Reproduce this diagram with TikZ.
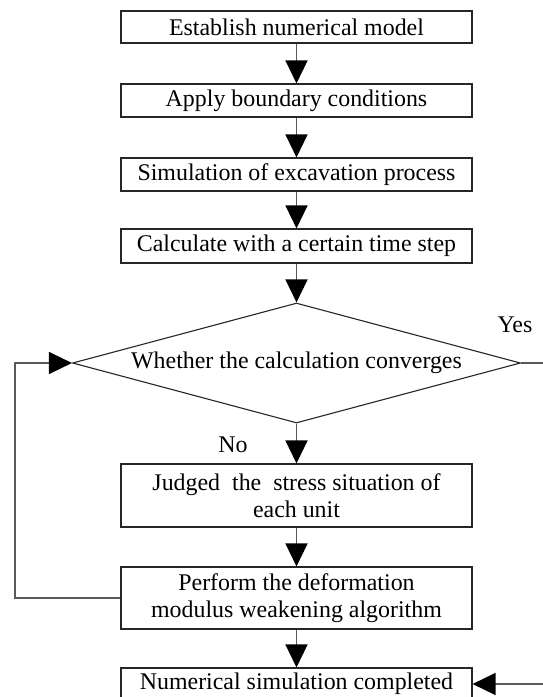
\documentclass[tikz,border=0pt]{standalone}
\usepackage{fontspec}
\setmainfont{Liberation Serif}
\usetikzlibrary{arrows.meta,shapes.geometric}
\begin{document}
\begin{tikzpicture}[x=1pt,y=-1pt,
  box/.style={draw=black!85, line width=1.1pt, minimum width=351pt, inner sep=0pt, align=center, font=\fontsize{23.9}{27}\selectfont},
  decision/.style={diamond, draw=black!85, line width=1.1pt, minimum width=448pt, minimum height=120pt, aspect=3.6, inner sep=0pt, font=\fontsize{23.9}{27}\selectfont},
  flow/.style={draw=black!65, line width=1.4pt, -{Triangle[length=23pt,width=22pt,fill=black,color=black]}},
  lbl/.style={font=\fontsize{23.9}{27}\selectfont, inner sep=0pt}]
\useasboundingbox (0,0) rectangle (542,697);
\node[box, minimum height=32pt] (b1) at (296.5,27) {Establish numerical model};
\node[box, minimum height=33pt] (b2) at (296.5,100.5) {Apply boundary conditions};
\node[box, minimum height=33pt] (b3) at (296.5,174.5) {Simulation of excavation process};
\node[box, minimum height=34pt] (b4) at (296.5,246) {Calculate with a certain time step};
\node[decision] (d) at (296.5,363) {Whether the calculation converges};
\node[box, minimum height=63pt] (b5) at (296.5,495.5) {Judged\ \ the\ \ stress situation of\\each unit};
\node[box, minimum height=62pt] (b6) at (296.5,598) {Perform the deformation\\modulus weakening algorithm};
\node[box, minimum height=32pt] (b7) at (296.5,684) {Numerical simulation completed};
\node[lbl] (yes) at (515,325) {Yes};
\node[lbl] (no) at (233,445) {No};
\coordinate (L) at (15,598);
\coordinate (R) at (546,363);
\draw[flow] (b1.south) -- (b2.north);
\draw[flow] (b2.south) -- (b3.north);
\draw[flow] (b3.south) -- (b4.north);
\draw[flow] (b4.south) -- (d.north);
\draw[flow] (d.south) -- (b5.north);
\draw[flow] (b5.south) -- (b6.north);
\draw[flow] (b6.south) -- (b7.north);
\draw[flow] (b6.west) -- (L) |- (d.west);
\draw[flow] (d.east) -- (R) |- (b7.east);
\end{tikzpicture}
\end{document}
